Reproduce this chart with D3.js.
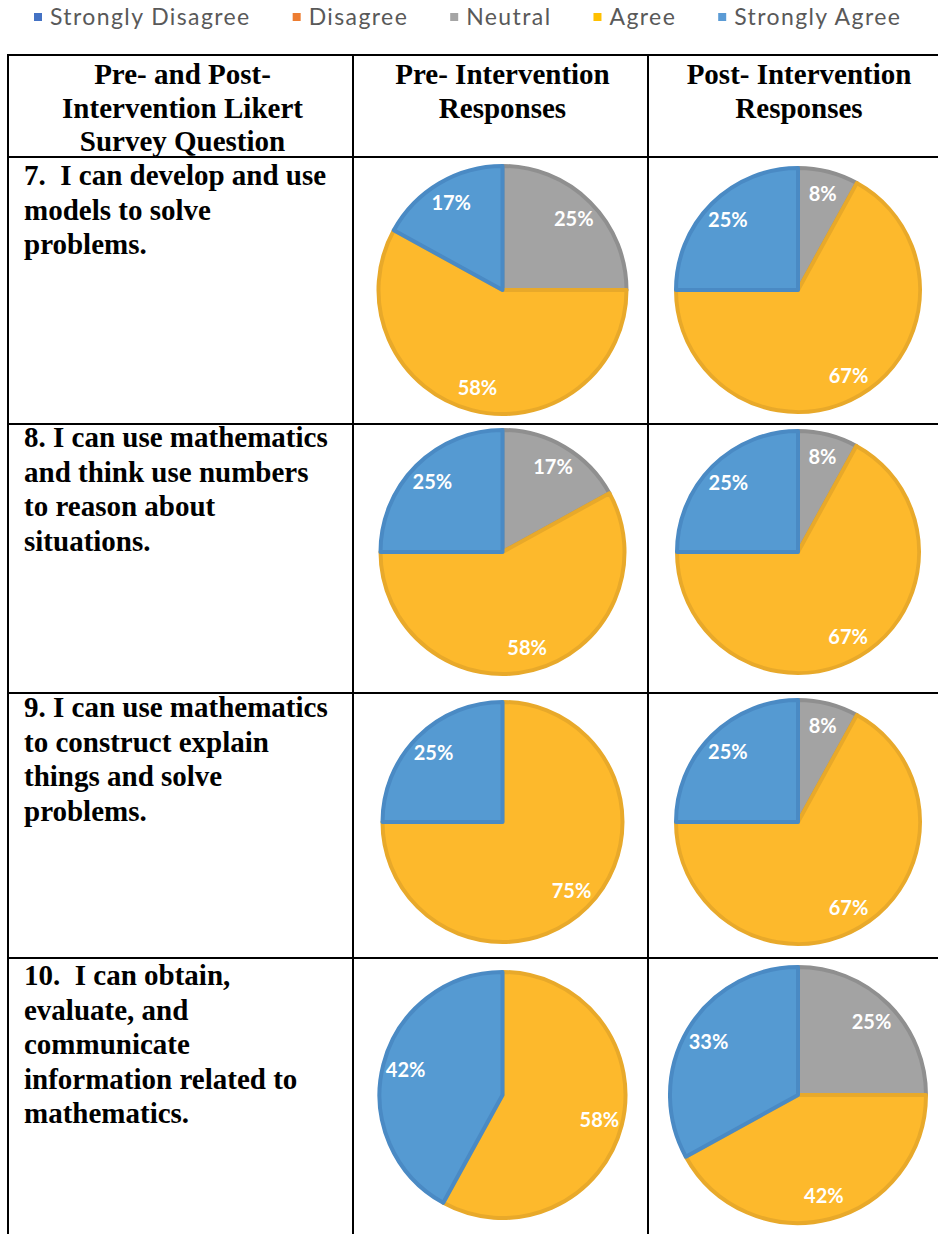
<!DOCTYPE html>
<html>
<head>
<meta charset="utf-8">
<script src="https://cdn.jsdelivr.net/npm/d3@7"></script>
<style>
  body { margin: 0; background: #fff; }
  svg text { white-space: pre; }
</style>
</head>
<body>
<svg id="chart"></svg>
<script>
// likert categories, in the order the slices are drawn (clockwise from 12 o'clock)
const categories = ['Strongly Disagree', 'Disagree', 'Neutral', 'Agree', 'Strongly Agree'];
const legendColours = ['#4472C4', '#ED7D31', '#A5A5A5', '#FFC000', '#5B9BD5'];
const sliceColours = ['#4472C4', '#ED7D31', '#A3A3A3', '#FDB92C', '#559AD2'];
const sliceStrokes = ['#3A62A8', '#D06A28', '#8F8F8F', '#E8A92A', '#4A8AC4'];

// percentages per question
const preValues = [
  [0, 0, 25, 58, 17],
  [0, 0, 17, 58, 25],
  [0, 0, 0, 75, 25],
  [0, 0, 0, 58, 42]
];
const postValues = [
  [0, 0, 8, 67, 25],
  [0, 0, 8, 67, 25],
  [0, 0, 8, 67, 25],
  [0, 0, 25, 42, 33]
];

const headers = [
  ['Pre- and Post-', 'Intervention Likert', 'Survey Question'],
  ['Pre- Intervention', 'Responses'],
  ['Post- Intervention', 'Responses']
];
const questions = [
  ['7.  I can develop and use', 'models to solve', 'problems.'],
  ['8. I can use mathematics', 'and think use numbers', 'to reason about', 'situations.'],
  ['9. I can use mathematics', 'to construct explain', 'things and solve', 'problems.'],
  ['10.  I can obtain,', 'evaluate, and', 'communicate', 'information related to', 'mathematics.']
];

const width = 938;
const height = 1234;

// table geometry
const tableTop = 55;
const rowEdges = [157, 424, 693, 958, 1240];
const colEdges = [8, 353, 648, 946];
const firstBaselines = [185, 447, 717, 985];
const lineHeight = 34.5;
const pieCy = [290, 552, 822, 1095];
const pieR = [[126, 124], [124, 123], [122, 124], [125, 130]];

const colour = d3.scaleOrdinal().domain(categories).range(sliceColours);
const strokeColour = d3.scaleOrdinal().domain(categories).range(sliceStrokes);

const svg = d3.select('#chart')
  .attr('width', width)
  .attr('height', height);

// legend
const legend = svg.append('g').attr('class', 'legend');
let lx = 34;
categories.forEach((c, i) => {
  legend.append('rect')
    .attr('x', lx).attr('y', 13)
    .attr('width', 8).attr('height', 8)
    .attr('fill', legendColours[i]);
  const t = legend.append('text')
    .attr('x', lx + 16).attr('y', 25)
    .attr('font-family', 'Lato, sans-serif')
    .attr('font-size', 23)
    .attr('letter-spacing', 1.4)
    .attr('fill', '#595959')
    .text(c);
  lx += 16 + t.node().getComputedTextLength() + 42;
});

// grid
const grid = svg.append('g').attr('stroke', '#000').attr('stroke-width', 2);
[tableTop, ...rowEdges.slice(0, -1)].forEach(y => {
  grid.append('line').attr('x1', colEdges[0] - 1).attr('x2', colEdges[3]).attr('y1', y).attr('y2', y);
});
colEdges.forEach(x => {
  grid.append('line').attr('x1', x).attr('x2', x).attr('y1', tableTop).attr('y2', rowEdges[4]);
});

const serif = '"Liberation Serif", "Times New Roman", serif';

// header texts
headers.forEach((lines, ci) => {
  const cx = (colEdges[ci] + colEdges[ci + 1]) / 2 + 2;
  svg.append('text')
    .attr('font-family', serif)
    .attr('font-weight', 'bold')
    .attr('font-size', 29)
    .attr('text-anchor', 'middle')
    .selectAll('tspan')
    .data(lines)
    .enter().append('tspan')
    .attr('x', cx)
    .attr('y', (d, i) => 84 + i * 33.5)
    .text(d => d);
});

// question texts
questions.forEach((lines, ri) => {
  svg.append('text')
    .attr('font-family', serif)
    .attr('font-weight', 'bold')
    .attr('font-size', 29)
    .selectAll('tspan')
    .data(lines)
    .enter().append('tspan')
    .attr('x', 24)
    .attr('y', (d, i) => firstBaselines[ri] + i * lineHeight)
    .text(d => d);
});

// pies
const pie = d3.pie().sort(null).value(d => d.value);

function drawPie(values, cx, cy, r) {
  const data = pie(values.map((v, i) => ({ cat: categories[i], value: v })))
    .filter(d => d.data.value > 0);
  const arc = d3.arc().innerRadius(0).outerRadius(r - 2);
  const labelArc = d3.arc().innerRadius(r * 0.8).outerRadius(r * 0.8);

  const g = svg.append('g').attr('transform', `translate(${cx}, ${cy})`);
  g.selectAll('path')
    .data(data)
    .enter().append('path')
    .attr('d', arc)
    .attr('fill', d => colour(d.data.cat))
    .attr('stroke', d => strokeColour(d.data.cat))
    .attr('stroke-width', 4)
    .attr('stroke-linejoin', 'round');

  g.selectAll('text')
    .data(data)
    .enter().append('text')
    .attr('transform', d => `translate(${labelArc.centroid(d)})`)
    .attr('text-anchor', 'middle')
    .attr('dy', '0.36em')
    .attr('font-family', 'Lato, sans-serif')
    .attr('font-weight', 'bold')
    .attr('font-size', 20)
    .attr('fill', '#fff')
    .text(d => d.data.value + '%');
}

preValues.forEach((v, ri) => {
  drawPie(v, (colEdges[1] + colEdges[2]) / 2 + 2, pieCy[ri], pieR[ri][0]);
});
postValues.forEach((v, ri) => {
  drawPie(v, (colEdges[2] + colEdges[3]) / 2 + 1, pieCy[ri], pieR[ri][1]);
});
</script>
</body>
</html>
